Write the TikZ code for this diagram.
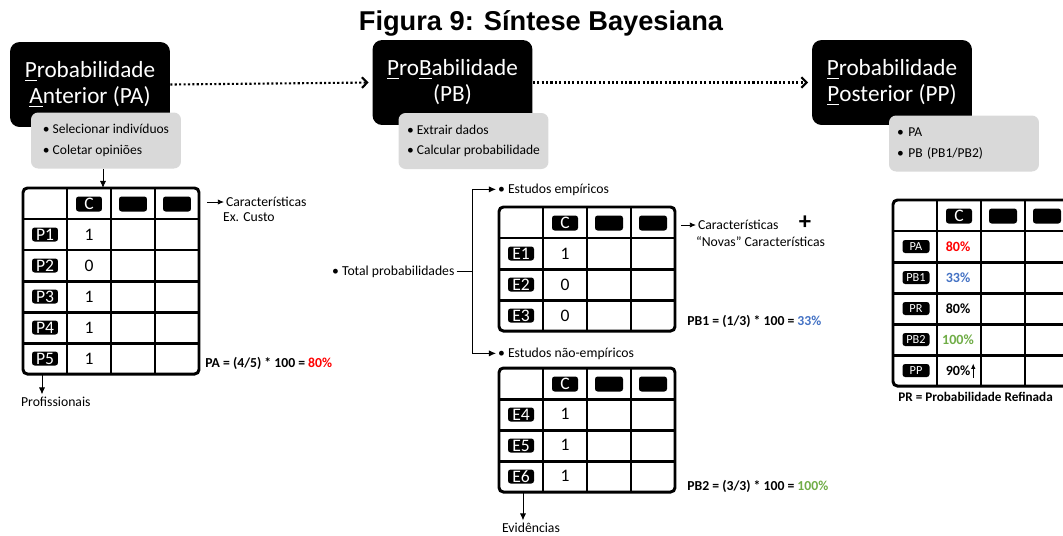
\documentclass[tikz,border=0pt]{standalone}
\usepackage{fontspec}
\setmainfont{Carlito}
\newfontfamily\titulofont{Liberation Sans}
\usetikzlibrary{arrows.meta}

\definecolor{cinza}{HTML}{D9D9D9}
\definecolor{vermelho}{HTML}{FF0000}
\definecolor{azul}{HTML}{4472C4}
\definecolor{verde}{HTML}{70AD47}

\tikzset{
  titulo/.style={inner sep=0pt, font=\titulofont\bfseries\fontsize{15.5}{18}\selectfont},
  caixa/.style={fill=black, text=white, rounded corners=5.5pt, minimum width=3.2cm, minimum height=1.7cm, align=center, font=\fontsize{13.2}{14.8}\selectfont},
  sub/.style={fill=cinza, rounded corners=4pt, minimum width=3cm, minimum height=1.12cm, align=left, inner ysep=2pt, font=\fontsize{7.7}{11.8}\selectfont},
  txt/.style={inner sep=1pt, font=\fontsize{7.8}{9}\selectfont},
  formula/.style={inner sep=0pt, font=\bfseries\fontsize{7.8}{9}\selectfont},
  chave/.style={fill=black, text=white, rounded corners=1.5pt, minimum width=0.52cm, minimum height=0.3cm, inner sep=0pt, font=\fontsize{10}{10}\selectfont},
  rotulo/.style={chave, minimum height=0.28cm, font=\fontsize{10}{10}\selectfont},
  valor/.style={inner sep=1pt, font=\fontsize{10}{10}\selectfont},
  tab/.style={line width=1.7pt},
  seta/.style={-{Latex[length=4pt,width=3.5pt]}, line width=0.5pt},
  pontos/.style={line width=1.2pt, dash pattern=on 1.2pt off 1.3pt, -{Straight Barb[length=3pt,width=6pt]}, shorten >=2pt},
}

% grade da tabela: x0, y0, linhas, prefixo
\newcommand{\tabela}[4]{%
  \draw[tab, rounded corners=2.5pt] (#1,#2) rectangle ++(176,31*#3);
  \foreach \k in {1,2,3} {\draw[tab] (#1+44*\k,#2) -- ++(0,31*#3);}
  \pgfmathtruncatemacro\ultima{#3-1}
  \foreach \k in {1,...,\ultima} {\draw[tab] (#1,#2+31*\k) -- ++(176,0);}
  \node[chave] (#4c) at (#1+66,#2+16) {C};
  \node[chave, minimum width=0.56cm] (#4k2) at (#1+110,#2+16) {};
  \node[chave, minimum width=0.56cm] (#4k3) at (#1+154,#2+16) {};
}

\begin{document}
\begin{tikzpicture}[x=0.02cm, y=-0.02cm]
\useasboundingbox (0,0) rectangle (1063,535);
\clip (0,0) rectangle (1063,535);

\node[titulo, anchor=base] (tit) at (541,30) {Figura 9: Síntese Bayesiana};

% caixas principais
\node[caixa] (pa) at (90,84.5) {\underline{P}robabilidade\\\underline{A}nterior (PA)};
\node[sub] (sub1) at (106,140.5) {\textbullet\ Selecionar indivíduos\\\textbullet\ Coletar opiniões};

\node[caixa] (pb) at (452.5,82.5) {\underline{P}ro\underline{B}abilidade\\(PB)};
\node[sub] (sub2) at (473.5,141) {\textbullet\ Extrair dados\\\textbullet\ Calcular probabilidade};

\node[caixa] (pp) at (892,82.5) {\underline{P}robabilidade\\\underline{P}osterior (PP)};
\node[sub, inner xsep=0.16cm, text width=2.68cm] (sub3) at (964,143.5) {\textbullet\ PA\\\textbullet\ PB (PB1/PB2)};

\draw[pontos] (pa.east) -- (pb.west);
\draw[pontos] (pb.east) -- (pp.west);

% tabela 1 - profissionais
\tabela{23}{188}{6}{t1}
\foreach \v [count=\i] in {1,0,1,1,1} {
  \node[rotulo] (p\i) at (45,188+31*\i+15.5) {P\i};
  \node[valor] (t1v\i) at (89,188+31*\i+16) {\v};
}
\coordinate (t1topo) at (103,188);
\draw[seta] (sub1.south -| t1topo) -- (t1topo);
\coordinate (c1) at (207,202);
\node[txt, anchor=base west] (car1) at (224,206) {Características};
\node[txt, anchor=base west] (ex1) at (221,221) {Ex. Custo};
\draw[seta, -{Latex[length=3.5pt,width=3pt]}] (c1) -- (car1.west |- c1);
\node[formula, anchor=base west] (fpa) at (205,367) {PA = (4/5) * 100 = \textcolor{vermelho}{80\%}};
\coordinate (t1base) at (42,374);
\node[txt, anchor=base west] (prof) at (19,406) {Profissionais};
\draw[seta] (t1base) -- (prof.north -| t1base);

% total probabilidades
\node[txt, anchor=base west] (total) at (330,275) {\textbullet\ Total probabilidades};
\node[txt, anchor=base west] (emp) at (496,193) {\textbullet\ Estudos empíricos};
\node[txt, anchor=base west] (nemp) at (496,357) {\textbullet\ Estudos não-empíricos};
\coordinate (chaveta) at (472,272);
\draw (total.east) -- (total.east -| chaveta);
\draw[seta] (total.east -| chaveta) |- (emp.west);
\draw[seta] (total.east -| chaveta) |- (nemp.west);

% tabela 2 - estudos empiricos
\tabela{499}{207}{4}{t2}
\foreach \v [count=\i] in {1,0,0} {
  \node[rotulo] (e\i) at (521,207+31*\i+15.5) {E\i};
  \node[valor] (t2v\i) at (565,207+31*\i+16) {\v};
}
\coordinate (c2) at (681,225);
\node[txt, anchor=base west] (car2) at (696,229) {Características};
\draw[seta, -{Latex[length=3.5pt,width=3pt]}] (c2) -- (car2.west |- c2);
\node[inner sep=0pt, font=\bfseries\fontsize{14}{14}\selectfont] (mais) at (805,223) {+};
\node[txt, anchor=base west] (novas) at (694,246) {“Novas” Características};
\node[formula, anchor=base west] (fpb1) at (687,325) {PB1 = (1/3) * 100 = \textcolor{azul}{33\%}};

% tabela 3 - estudos nao empiricos
\tabela{499}{368}{4}{t3}
\foreach \n/\v [count=\i] in {4/1,5/1,6/1} {
  \node[rotulo] (e\n) at (521,368+31*\i+15.5) {E\n};
  \node[valor] (t3v\i) at (565,368+31*\i+15) {\v};
}
\node[formula, anchor=base west] (fpb2) at (687,490) {PB2 = (3/3) * 100 = \textcolor{verde}{100\%}};
\coordinate (t3base) at (523,493);
\node[txt, anchor=base west] (evid) at (500,532) {Evidências};
\draw[seta] (t3base) -- (evid.north -| t3base);

% tabela 4 - probabilidade posterior
\tabela{893}{200}{6}{t4}
\foreach \n/\v/\cor [count=\i] in {PA/80\%/vermelho, PB1/33\%/azul, PR/80\%/black, PB2/100\%/verde, PP/90\%/black} {
  \node[rotulo, minimum width=0.54cm, minimum height=0.26cm, font=\fontsize{7}{7}\selectfont] (t4r\i) at (916,200+31*\i+15.5) {\n};
  \node[valor, text=\cor, font=\bfseries\fontsize{8}{8}\selectfont] (t4v\i) at (958,200+31*\i+15.5) {\v};
}
\draw[-{Latex[length=3pt,width=2.5pt]}, line width=0.5pt] ([xshift=0.5pt]t4v5.south east) -- ([xshift=0.5pt]t4v5.north east);
\node[formula, font=\bfseries\fontsize{7.5}{9}\selectfont, anchor=base west] (pr) at (898,401) {PR = Probabilidade Refinada};

\end{tikzpicture}
\end{document}
